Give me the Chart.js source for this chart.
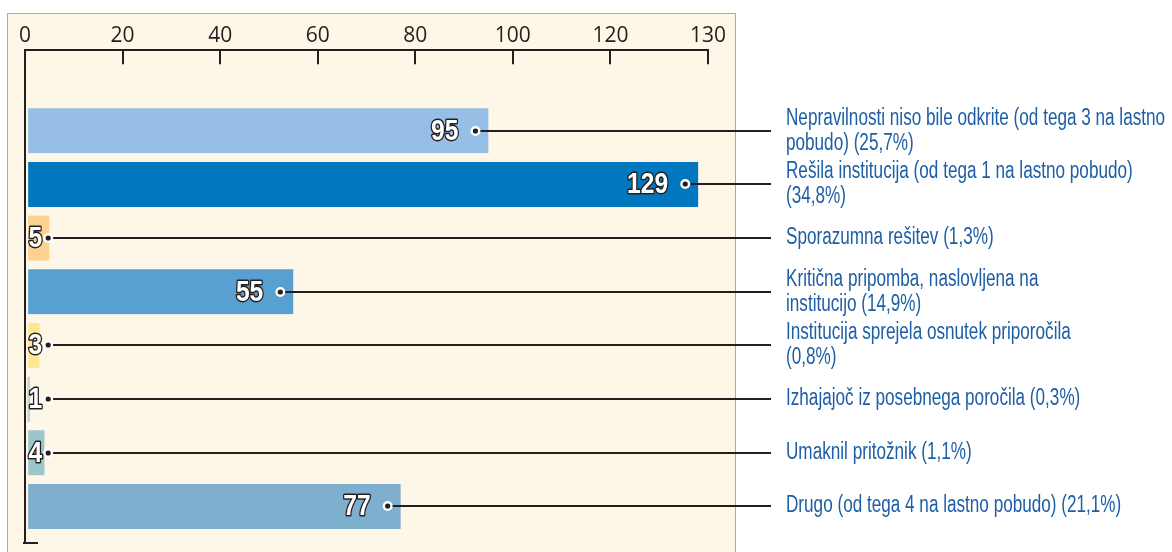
<!DOCTYPE html>
<html>
<head>
<meta charset="utf-8">
<script src="https://cdn.jsdelivr.net/npm/chart.js@4/dist/chart.umd.min.js"></script>
<style>
  html, body { margin:0; padding:0; background:#ffffff; width:1172px; height:552px; overflow:hidden; }
  #panel { position:absolute; left:7px; top:13px; width:727px; height:560px; background:#fef6e7; border:1px solid #a7a9ac; border-bottom:none; }
  #wrap { position:absolute; left:0; top:0; width:1172px; height:552px; }
</style>
</head>
<body>
<div id="panel"></div>
<div id="wrap"><canvas id="c" width="1172" height="552"></canvas></div>
<script>
// ---- data ----
const categories = [
  ["Nepravilnosti niso bile odkrite (od tega 3 na lastno", "pobudo) (25,7%)"],
  ["Rešila institucija (od tega 1 na lastno pobudo)", "(34,8%)"],
  ["Sporazumna rešitev (1,3%)"],
  ["Kritična pripomba, naslovljena na", "institucijo (14,9%)"],
  ["Institucija sprejela osnutek priporočila", "(0,8%)"],
  ["Izhajajoč iz posebnega poročila (0,3%)"],
  ["Umaknil pritožnik (1,1%)"],
  ["Drugo (od tega 4 na lastno pobudo) (21,1%)"]
];
const values = [95, 129, 5, 55, 3, 1, 4, 77];
const barColors = ["#97bfe5", "#0077be", "#ffd18e", "#589fd2", "#ffe693", "#c5d4cc", "#9dc6cb", "#7fafce"];
const tickValues = [0, 20, 40, 60, 80, 100, 120, 130];
const tickLabels = ["0", "20", "40", "60", "80", "100", "120", "130"];

// ---- styles ----
const panelBg = "#fef6e7";
const ink = "#231f20";
const labelBlue = "#1d5ea6";
const sans = '"Liberation Sans", Arial, sans-serif';
const labelSqueeze = 0.745;   // condensed look of the original typeface
const valueSqueeze = 0.85;
const yMin = -1.5, yMax = 7.68;

// Axis whose ticks are evenly spaced, linear between consecutive ticks (as in the original figure)
const BaseLinear = Chart.LinearScale || Chart.registry.getScale('linear');
class TickSpacedScale extends BaseLinear {
  determineDataLimits() { this.min = tickValues[0]; this.max = tickValues[tickValues.length - 1]; }
  buildTicks() { return tickValues.map(v => ({ value: v })); }
  getPixelForValue(v) {
    if (v === null || v === undefined || isNaN(v)) return NaN;
    const n = tickValues.length;
    let i = 0;
    while (i < n - 2 && v > tickValues[i + 1]) i++;
    const f = (v - tickValues[i]) / (tickValues[i + 1] - tickValues[i]);
    return this.getPixelForDecimal((i + f) / (n - 1));
  }
  getValueForPixel(p) {
    const n = tickValues.length;
    const pos = this.getDecimalForPixel(p) * (n - 1);
    const i = Math.max(0, Math.min(n - 2, Math.floor(pos)));
    return tickValues[i] + (pos - i) * (tickValues[i + 1] - tickValues[i]);
  }
}
TickSpacedScale.id = 'tickSpaced';
TickSpacedScale.defaults = BaseLinear.defaults;
Chart.register(TickSpacedScale);

function squeezedText(ctx, text, x, y, sx, stroke) {
  ctx.save();
  ctx.translate(x, y);
  ctx.scale(sx, 1);
  if (stroke) ctx.strokeText(text, 0, 0);
  ctx.fillText(text, 0, 0);
  ctx.restore();
}

const decor = {
  id: 'decor',
  afterDatasetsDraw(chart) {
    const { ctx, chartArea, scales: { x } } = chart;
    ctx.save();
    ctx.strokeStyle = ink;
    ctx.lineWidth = 2;
    // tick marks pointing down from the top axis
    x.ticks.forEach((t, i) => {
      const px = Math.round(x.getPixelForTick(i));
      ctx.beginPath();
      ctx.moveTo(px, chartArea.top);
      ctx.lineTo(px, chartArea.top + 14);
      ctx.stroke();
    });
    // bottom foot of the vertical axis
    ctx.beginPath();
    ctx.moveTo(chartArea.left - 2, chartArea.bottom);
    ctx.lineTo(chartArea.left + 13, chartArea.bottom);
    ctx.stroke();

    const meta = chart.getDatasetMeta(0);
    const leaderEnd = chartArea.right + 63;
    const textX = chartArea.right + 78;
    meta.data.forEach((bar, i) => {
      const endX = bar.x, cy = Math.round(bar.y), baseX = bar.base;
      const txt = String(values[i]);
      ctx.font = 'bold 29px ' + sans;
      const w = ctx.measureText(txt).width * valueSqueeze;
      let dotX, tx, align;
      if (endX - baseX > 60) {
        dotX = endX - 13;
        tx = dotX - 17; align = 'right';
      } else {
        tx = baseX + 3; align = 'left';
        dotX = tx + w + 6;
      }
      // leader
      ctx.strokeStyle = ink; ctx.lineWidth = 2;
      ctx.beginPath();
      ctx.moveTo(dotX, cy);
      ctx.lineTo(leaderEnd, cy);
      ctx.stroke();
      // dot
      ctx.fillStyle = '#ffffff';
      ctx.beginPath(); ctx.arc(dotX, cy, 5, 0, Math.PI * 2); ctx.fill();
      ctx.fillStyle = ink;
      ctx.beginPath(); ctx.arc(dotX, cy, 2.6, 0, Math.PI * 2); ctx.fill();
      // value label
      ctx.textAlign = align; ctx.textBaseline = 'middle';
      ctx.lineJoin = 'round';
      ctx.lineWidth = 3; ctx.strokeStyle = ink;
      ctx.fillStyle = '#ffffff';
      squeezedText(ctx, txt, tx, cy + 1, valueSqueeze, true);
      // category label
      const lines = categories[i];
      ctx.font = '23px ' + sans;
      ctx.fillStyle = labelBlue;
      ctx.textAlign = 'left';
      const lh = 25;
      lines.forEach((ln, k) => {
        squeezedText(ctx, ln, textX, cy + (k - (lines.length - 1) / 2) * lh, labelSqueeze, false);
      });
    });
    ctx.restore();
  }
};

new Chart(document.getElementById('c'), {
  type: 'bar',
  data: {
    labels: categories.map(l => l.join(' ')),
    datasets: [{
      data: values.map((v, i) => ({ x: v, y: i })),
      backgroundColor: barColors,
      borderColor: panelBg,
      borderWidth: { left: 3, top: 0, right: 0, bottom: 0 },
      borderSkipped: false,
      barThickness: 45
    }]
  },
  options: {
    indexAxis: 'y',
    responsive: false,
    animation: false,
    layout: { padding: { left: 25, right: 464, top: 21, bottom: 9 } },
    plugins: { legend: { display: false }, tooltip: { enabled: false } },
    scales: {
      x: {
        type: 'tickSpaced',
        position: 'top',
        grid: { display: true, drawOnChartArea: false, drawTicks: false },
        border: { display: true, color: ink, width: 2, z: 1 },
        ticks: {
          padding: 2, color: ink, autoSkip: false, maxRotation: 0,
          font: { family: '"Open Sans", "Liberation Sans", sans-serif', size: 21 },
          callback: (v, i) => tickLabels[i]
        }
      },
      y: {
        type: 'linear',
        reverse: true,
        offset: false,
        bounds: 'data',
        min: yMin,
        max: yMax,
        afterBuildTicks: (s) => { s.min = yMin; s.max = yMax; },
        grid: { display: true, offset: false, drawOnChartArea: false, drawTicks: false },
        border: { display: true, color: ink, width: 2, z: 1 },
        ticks: { display: false }
      }
    }
  },
  plugins: [decor]
});
</script>
</body>
</html>
